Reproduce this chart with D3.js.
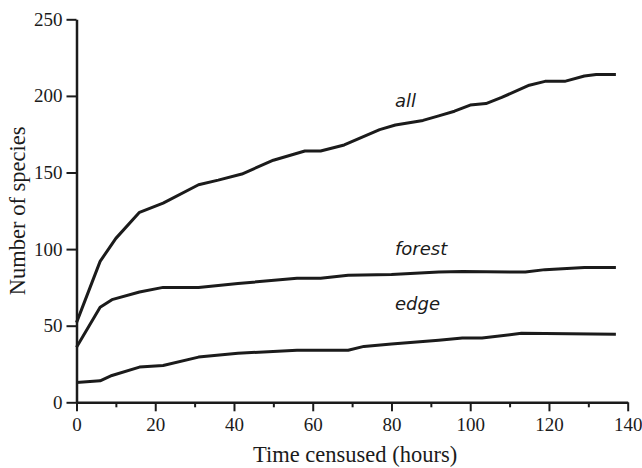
<!DOCTYPE html>
<html>
<head>
<meta charset="utf-8">
<script src="https://cdn.jsdelivr.net/npm/d3@7"></script>
<style>
  body { margin: 0; background: #fff; }
  svg { display: block; }
</style>
</head>
<body>
<div id="chart"></div>
<script>
// hours censused -> cumulative species count
var allHours = [0, 6, 10, 16, 22, 31, 36, 42, 50, 58, 62, 68, 77, 81, 88, 92, 96, 100, 104, 108, 115, 119, 124, 129, 132, 137];
var allSpecies = [52, 92, 107, 124, 130, 142, 145, 149, 158, 164, 164, 168, 178, 181, 184, 187, 190, 194, 195, 199, 207, 209.5, 209.5, 213, 214, 214];

var forestHours = [0, 6, 9, 16, 22, 31, 41, 56, 62, 69, 80, 92, 98, 114, 119, 129, 137];
var forestSpecies = [36, 62, 67, 72, 75, 75, 77.5, 81, 81, 83, 83.5, 85, 85.3, 85, 86.6, 88, 88];

var edgeHours = [0, 6, 9, 16, 22, 31, 41, 56, 62, 69, 73, 80, 92, 98, 103, 113, 137];
var edgeSpecies = [13, 14, 17.5, 23, 24, 29.5, 32, 34, 34, 34, 36.5, 38, 40.5, 42, 42, 45, 44.5];

var xTicks = [0, 20, 40, 60, 80, 100, 120, 140];
var xMinorTicks = [10, 30, 50, 70, 90, 110, 130];
var yTicks = [0, 50, 100, 150, 200, 250];

var w = 642;
var h = 468;

var x = d3.scaleLinear().domain([0, 140]).range([76.5, 627.7]);
var y = d3.scaleLinear().domain([0, 250]).range([402.3, 19.3]);

var svg = d3.select("#chart")
    .append("svg")
    .attr("width", w)
    .attr("height", h);

var ink = "#1b1b1b";
var serif = "'Liberation Serif', 'Times New Roman', serif";

// minor ticks on x axis (no labels)
svg.append("g")
   .attr("transform", "translate(0," + y(0) + ")")
   .call(d3.axisBottom(x).tickValues(xMinorTicks).tickSize(5).tickFormat(""))
   .call(function(g) { g.select(".domain").remove(); })
   .selectAll("line")
   .attr("stroke", ink)
   .attr("stroke-width", 2);

var xAxis = svg.append("g")
   .attr("transform", "translate(0," + y(0) + ")")
   .call(d3.axisBottom(x).tickValues(xTicks).tickSizeInner(9).tickSizeOuter(0).tickPadding(6));

var yAxis = svg.append("g")
   .attr("transform", "translate(" + x(0) + ",0)")
   .call(d3.axisLeft(y).tickValues(yTicks).tickSizeInner(10).tickSizeOuter(0).tickPadding(4));

[xAxis, yAxis].forEach(function(g) {
    g.select(".domain").attr("stroke", ink).attr("stroke-width", 2.5);
    g.selectAll(".tick line").attr("stroke", ink).attr("stroke-width", 2);
    g.selectAll("text")
     .attr("fill", ink)
     .style("font-family", serif)
     .style("font-size", "19px");
});

var series = [
    { name: "all", hours: allHours, species: allSpecies, lx: 395, ly: 107 },
    { name: "forest", hours: forestHours, species: forestSpecies, lx: 395, ly: 255 },
    { name: "edge", hours: edgeHours, species: edgeSpecies, lx: 395, ly: 310 }
];

var line = d3.line()
    .x(function(d) { return x(d[0]); })
    .y(function(d) { return y(d[1]); });

svg.selectAll("path.curve")
   .data(series)
   .enter()
   .append("path")
   .attr("class", "curve")
   .attr("d", function(s) {
       return line(d3.zip(s.hours, s.species));
   })
   .attr("fill", "none")
   .attr("stroke", ink)
   .attr("stroke-width", 3)
   .attr("stroke-linejoin", "round");

svg.selectAll("text.lbl")
   .data(series)
   .enter()
   .append("text")
   .attr("class", "lbl")
   .attr("x", function(s) { return s.lx; })
   .attr("y", function(s) { return s.ly; })
   .text(function(s) { return s.name; })
   .attr("fill", ink)
   .style("font-family", "'DejaVu Sans', sans-serif")
   .style("font-style", "italic")
   .style("font-size", "18px");

// axis titles
svg.append("text")
   .attr("x", (x(0) + x(140)) / 2 + 3)
   .attr("y", 462)
   .attr("text-anchor", "middle")
   .attr("fill", ink)
   .style("font-family", serif)
   .style("font-size", "22.5px")
   .text("Time censused (hours)");

svg.append("text")
   .attr("transform", "translate(25," + (y(0) + y(250)) / 2 + ") rotate(-90)")
   .attr("text-anchor", "middle")
   .attr("fill", ink)
   .style("font-family", serif)
   .style("font-size", "22.5px")
   .text("Number of species");
</script>
</body>
</html>
